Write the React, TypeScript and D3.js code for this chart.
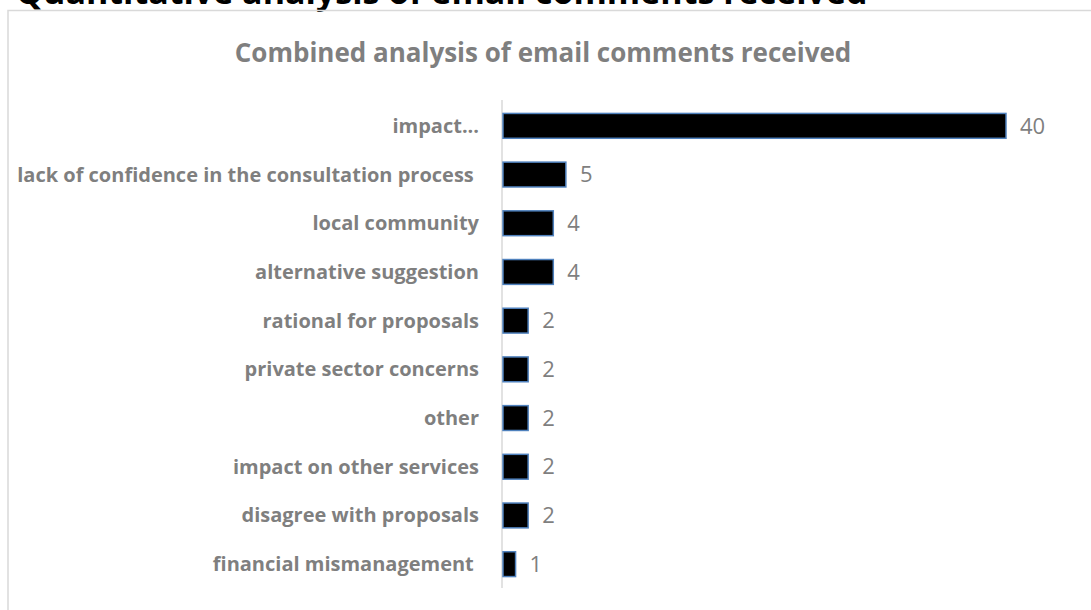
import React from "react";
import * as d3 from "d3";

const categories = [
  "impact...",
  "lack of confidence in the consultation process ",
  "local community",
  "alternative suggestion",
  "rational for proposals",
  "private sector concerns",
  "other",
  "impact on other services",
  "disagree with proposals",
  "financial mismanagement ",
];
const values = [40, 5, 4, 4, 2, 2, 2, 2, 2, 1];

const pageTitle = "Quantitative analysis of email comments received";
const chartTitle = "Combined analysis of email comments received";

export default function App() {
  const W = 1091;
  const H = 610;
  const x0 = 502;
  const x = d3.scaleLinear().domain([0, 40]).range([x0, 1005]);
  const y = d3.scaleBand<string>().domain(categories).range([101.5, 588.5]).paddingInner(0.49).paddingOuter(0.245);
  const gray = "#7f7f7f";
  const font = "'Open Sans', sans-serif";
  return (
    <svg width={W} height={H} style={{ position: "absolute", left: 0, top: 0 }}>
      <rect x={0} y={0} width={W} height={H} fill="#fff" />
      <text x={16} y={4} fontFamily={font} fontWeight={700} fontSize={34} fill="#000">
        {pageTitle}
      </text>
      <path d={`M8,${H} V10.5 H${W}`} fill="none" stroke="#d9d9d9" strokeWidth={1.5} />
      <text x={543} y={62} textAnchor="middle" fontFamily={font} fontWeight={700} fontSize={26} fill={gray}>
        {chartTitle}
      </text>
      <line x1={x0} x2={x0} y1={100} y2={588} stroke="#d9d9d9" strokeWidth={1.5} />
      {categories.map((c, i) => {
        const yy = y(c)!;
        const bw = y.bandwidth();
        return (
          <g key={c}>
            <rect
              x={x(0) + 1}
              y={yy}
              width={x(values[i]) - x(0)}
              height={bw}
              fill="#000"
              stroke="#4f81bd"
              strokeWidth={1.5}
            />
            <text
              x={479}
              y={yy + bw / 2}
              dy="0.35em"
              textAnchor="end"
              fontFamily={font}
              fontWeight={700}
              fontSize={20}
              fill={gray}
              style={{ whiteSpace: "pre" }}
            >
              {c}
            </text>
            <text
              x={x(values[i]) + 15}
              y={yy + bw / 2}
              dy="0.35em"
              fontFamily={font}
              fontSize={22}
              fill={gray}
            >
              {values[i]}
            </text>
          </g>
        );
      })}
    </svg>
  );
}
